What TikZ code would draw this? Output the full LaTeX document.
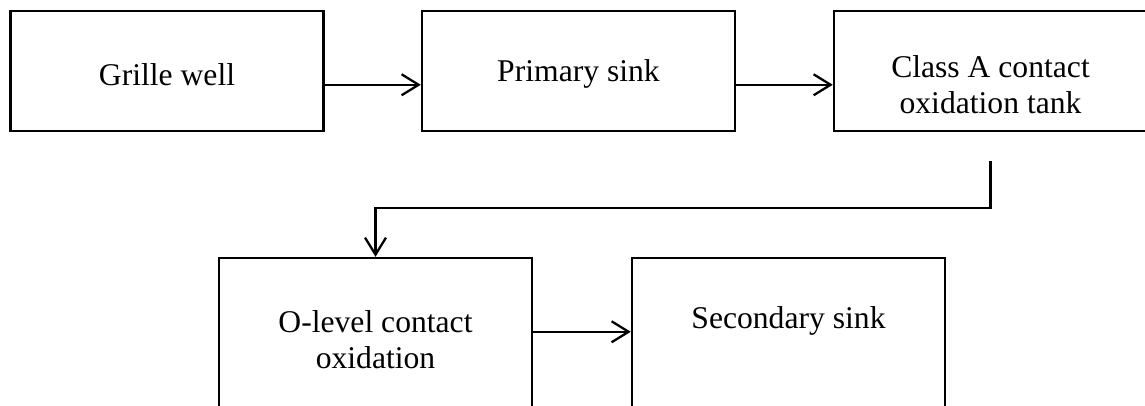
\documentclass[tikz,border=0pt]{standalone}
\usepackage{fontspec}
\setmainfont{Liberation Serif}
\usetikzlibrary{positioning}
\usetikzlibrary{arrows.meta}

\tikzset{
    tank/.style={draw, line width=1.4pt, rectangle, minimum width=6.26cm, inner sep=0pt},
    tanktext/.style={align=center, font=\fontsize{18}{20.5}\selectfont},
    flow/.style={line width=1.3pt, -{Straight Barb[length=0.34cm, width=0.42cm, line width=1.3pt]}}
}

\begin{document}
\begin{tikzpicture}
        \clip (0,0) rectangle (22.9,8.1);
        % top row
        \node[tank, minimum height=2.4cm] (grille) at (3.34,6.68) {};
        \node[tank, minimum height=2.4cm] (primary) at (11.57,6.68) {};
        \node[tank, minimum height=2.4cm] (classA) at (19.81,6.68) {};
        \node[tanktext] (grilleT) at ([yshift=-1.29cm]grille.north) {Grille well};
        \node[tanktext] (primaryT) at ([yshift=-1.29cm]primary.north) {Primary sink};
        \node[tanktext] (classAT) at ([yshift=-1.5cm]classA.north) {Class A contact\\oxidation tank};
        % bottom row
        \node[tank, minimum height=3cm] (olevel) at (7.51,1.44) {};
        \node[tank, minimum height=3cm] (secondary) at (15.77,1.44) {};
        \node[tanktext] (olevelT) at ([yshift=-1.66cm]olevel.north) {O-level contact\\oxidation};
        \node[tanktext] (secondaryT) at ([yshift=-1.29cm]secondary.north) {Secondary sink};
        % connectors
        \draw[flow] ([yshift=-1.5cm]grille.north east) -- ([yshift=-1.5cm]primary.north west);
        \draw[flow] ([yshift=-1.5cm]primary.north east) -- ([yshift=-1.5cm]classA.north west);
        \coordinate (down) at ([yshift=-0.58cm]classA.south);
        \draw[flow] (down) -- ++(0,-0.94) -| (olevel.north);
        \draw[flow] ([yshift=-1.5cm]olevel.north east) -- ([yshift=-1.5cm]secondary.north west);
    \end{tikzpicture}
\end{document}
